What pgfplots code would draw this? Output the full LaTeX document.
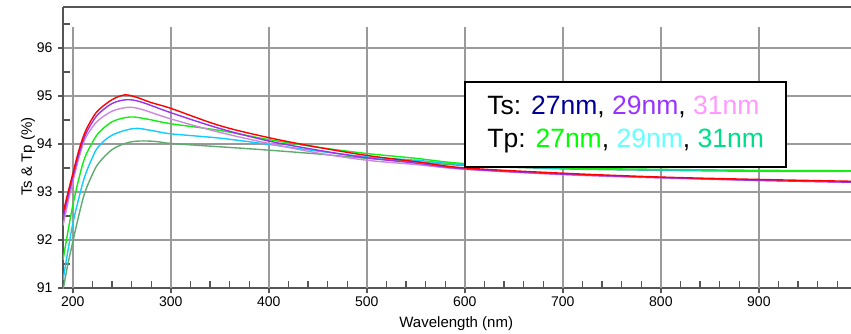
\documentclass[border=0pt]{standalone}
\usepackage{fontspec}
\setmainfont{Liberation Sans}
\usepackage{pgfplots}
\pgfplotsset{compat=1.18}

% curve colours
\definecolor{cRed}{HTML}{FF0000}
\definecolor{cPurple}{HTML}{9933EE}
\definecolor{cPink}{HTML}{CC88DD}
\definecolor{cGreen}{HTML}{11EE11}
\definecolor{cCyan}{HTML}{11CCFF}
\definecolor{cGrey}{HTML}{5FAA6E}
% legend text colours
\definecolor{lBlue}{HTML}{000099}
\definecolor{lPurple}{HTML}{9933FF}
\definecolor{lPink}{HTML}{FF99FF}
\definecolor{lGreen}{HTML}{00FF00}
\definecolor{lCyan}{HTML}{66FFFF}
\definecolor{lTeal}{HTML}{00DD88}
% frame colours
\definecolor{axiscol}{HTML}{555555}
\definecolor{gridcol}{HTML}{9A9A9A}

\begin{document}
\begin{tikzpicture}
\begin{axis}[
  scale only axis,
  width=788pt, height=281pt,
  xmin=190, xmax=994, ymin=91, ymax=96.85,
  axis x line=bottom, axis y line=left,
  axis line style={-, draw=axiscol, line width=1.8pt},
  xtick={200,300,...,900}, ytick={91,92,...,96},
  tick align=outside,
  major tick length=5pt,
  tick style={draw=axiscol, line width=1.4pt},
  ymajorgrids=true,
  grid style={draw=gridcol, line width=1.4pt},
  /pgf/number format/assume math mode=true,
  ticklabel style={font=\fontsize{14}{16}\selectfont},
  yticklabel style={xshift=-2pt},
  xlabel={Wavelength (nm)},
  ylabel={Ts \& Tp (\%)},
  label style={font=\fontsize{15}{17}\selectfont},
  xlabel style={at={(axis description cs:0.499,-0.125)}, anchor=center},
  ylabel style={at={(axis description cs:-0.0444,0.467)}, anchor=center, rotate=0},
  every axis plot/.append style={smooth, tension=0.55, line width=1.4pt},
  clip=true,
]
% vertical grid lines stop short of the top frame
\pgfplotsinvokeforeach{200,300,400,500,600,700,800,900}{
  \draw[gridcol, line width=1.4pt] (axis cs:#1,91) -- (axis cs:#1,96.43);
}
% inward minor ticks every 20 nm and every 0.5 %
\pgfplotsinvokeforeach{220,240,260,280,320,340,360,380,420,440,460,480,
  520,540,560,580,620,640,660,680,720,740,760,780,820,840,860,880,920,940,960,980}{
  \draw[axiscol, line width=1.4pt] (axis cs:#1,91) -- ++(0pt,7pt);
}
\pgfplotsinvokeforeach{91.5,92.5,93.5,94.5,95.5,96.5}{
  \draw[axiscol, line width=1.4pt] (axis cs:190,#1) -- ++(7pt,0pt);
}

% Tp, 31nm
\addplot[cGrey] coordinates {
(190,90.95) (195,91.50) (200,91.96) (206,92.50) (212,92.97) (219,93.32)
(226,93.59) (240,93.88) (255,94.02) (268,94.06) (285,94.05) (300,94.01)
(350,93.94) (400,93.87) (450,93.79) (500,93.70) (550,93.63) (600,93.55)
(700,93.48) (800,93.45) (900,93.43) (1000,93.43)};
% Tp, 29nm
\addplot[cCyan] coordinates {
(190,91.16) (195,91.77) (200,92.34) (206,92.86) (212,93.31) (219,93.67)
(226,93.94) (240,94.18) (262,94.32) (280,94.28) (300,94.21)
(350,94.12) (400,93.99) (450,93.85) (500,93.73) (550,93.66) (600,93.57)
(700,93.49) (800,93.46) (900,93.44) (1000,93.43)};
% Tp, 27nm
\addplot[cGreen] coordinates {
(190,91.58) (195,92.17) (200,92.72) (206,93.26) (212,93.70) (219,93.99)
(226,94.22) (240,94.46) (258,94.56) (275,94.52) (300,94.42)
(350,94.28) (400,94.09) (450,93.93) (500,93.80) (550,93.70) (600,93.59)
(700,93.50) (800,93.47) (900,93.45) (1000,93.44)};
% Ts, 31nm
\addplot[cPink] coordinates {
(190,92.30) (195,92.77) (200,93.21) (206,93.69) (212,94.08) (219,94.32)
(226,94.49) (240,94.68) (256,94.76) (270,94.72) (300,94.52)
(350,94.24) (400,94.01) (450,93.81) (500,93.66) (550,93.57) (600,93.47)
(700,93.36) (800,93.29) (900,93.24) (1000,93.20)};
% Ts, 29nm
\addplot[cPurple] coordinates {
(190,92.45) (195,92.89) (200,93.30) (206,93.77) (212,94.15) (219,94.42)
(226,94.62) (240,94.84) (255,94.92) (270,94.87) (300,94.65)
(350,94.32) (400,94.06) (450,93.87) (500,93.71) (550,93.60) (600,93.48)
(700,93.37) (800,93.30) (900,93.24) (1000,93.20)};
% Ts, 27nm
\addplot[cRed] coordinates {
(190,92.56) (195,92.98) (200,93.38) (206,93.85) (212,94.22) (219,94.50)
(226,94.70) (240,94.92) (253,95.02) (265,94.97) (280,94.86) (300,94.74)
(350,94.38) (400,94.13) (450,93.93) (500,93.76) (550,93.63) (600,93.50)
(700,93.39) (800,93.31) (900,93.26) (1000,93.22)};

% top frame line
\draw[axiscol, line width=1.8pt] (rel axis cs:0,1) -- (rel axis cs:1,1);

% thickness key
\node[draw=black, line width=1.8pt, fill=white, inner sep=0pt,
      minimum width=321pt, minimum height=85pt, align=left,
      font=\fontsize{26.5}{33}\selectfont]
  at (rel axis cs:0.714,0.582)
  {Ts: \textcolor{lBlue}{27nm}, \textcolor{lPurple}{29nm}, \textcolor{lPink}{31nm}\\
   Tp: \textcolor{lGreen}{27nm}, \textcolor{lCyan}{29nm}, \textcolor{lTeal}{31nm}};
\end{axis}
\pgfresetboundingbox
\path[use as bounding box] (-63pt,-45pt) rectangle (788pt,288pt);
\end{tikzpicture}
\end{document}
